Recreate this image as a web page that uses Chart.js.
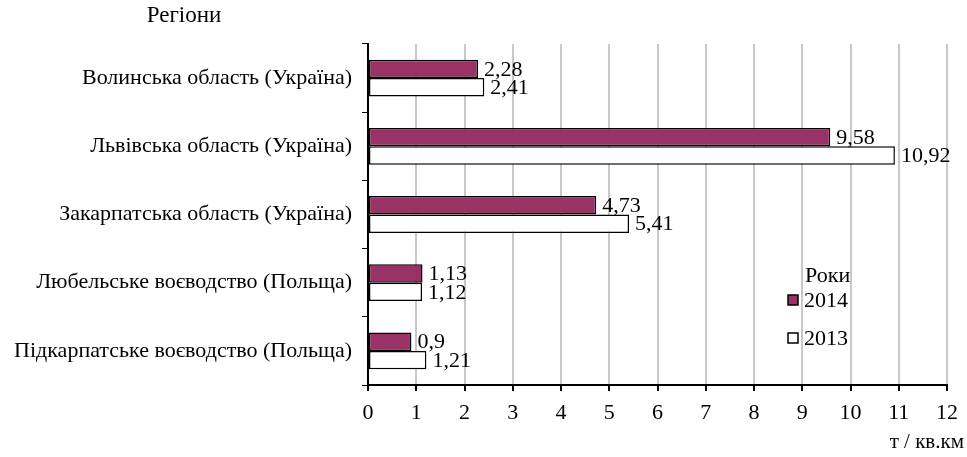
<!DOCTYPE html>
<html><head><meta charset="utf-8">
<script src="https://cdn.jsdelivr.net/npm/chart.js@4/dist/chart.umd.min.js"></script>
<style>html,body{margin:0;padding:0;background:#fff}#wrap{width:967px;height:457px}</style>
</head><body><div id="wrap"><canvas id="c"></canvas></div>
<script>
const categories = ["Волинська область (Україна)","Львівська область (Україна)","Закарпатська область (Україна)","Любельське воєводство (Польща)","Підкарпатське воєводство (Польща)"];
const values2014 = [2.28, 9.58, 4.73, 1.13, 0.9];
const values2013 = [2.41, 10.92, 5.41, 1.12, 1.21];
const seriesLabels = ["2014", "2013"];
const legendTitle = "Роки";
const xTitle = "т / кв.км";
const yTitle = "Регіони";
const FONT = "'Liberation Serif','Times New Roman',serif";

const fmt = v => String(v).replace('.', ',');

const extras = {
  id: 'extras',
  afterDatasetsDraw(chart) {
    const ctx = chart.ctx;
    ctx.save();
    ctx.font = "22px " + FONT;
    ctx.fillStyle = '#000';
    ctx.textBaseline = 'middle';
    ctx.textAlign = 'left';
    chart.data.datasets.forEach((ds, i) => {
      chart.getDatasetMeta(i).data.forEach((bar, j) => {
        ctx.fillText(fmt(ds.data[j]), bar.x + 6, bar.y + 1);
      });
    });
    // axis titles
    ctx.textAlign = 'center';
    ctx.font = "23px " + FONT;
    ctx.fillText(yTitle, 184, 16);
    ctx.font = "21px " + FONT;
    ctx.textAlign = 'right';
    ctx.fillText(xTitle, 964, 442);
    // legend
    ctx.font = "22px " + FONT;
    ctx.textAlign = 'left';
    ctx.fillText(legendTitle, 805, 276);
    const ys = [300, 338];
    chart.data.datasets.forEach((ds, i) => {
      ctx.fillStyle = ds.backgroundColor;
      ctx.strokeStyle = '#000';
      ctx.lineWidth = 1.5;
      ctx.fillRect(788, ys[i] - 5, 10, 10);
      ctx.strokeRect(788, ys[i] - 5, 10, 10);
      ctx.fillStyle = '#000';
      ctx.fillText(ds.label, 804, ys[i] + 1);
    });
    ctx.restore();
  }
};

new Chart(document.getElementById('c'), {
  type: 'bar',
  data: {
    labels: categories,
    datasets: [
      { label: seriesLabels[0], data: values2014, backgroundColor: '#993366', borderColor: '#000', borderWidth: 1.5, borderSkipped: false, barPercentage: 1.0, categoryPercentage: 0.54 },
      { label: seriesLabels[1], data: values2013, backgroundColor: '#ffffff', borderColor: '#000', borderWidth: 1.5, borderSkipped: false, barPercentage: 1.0, categoryPercentage: 0.54 }
    ]
  },
  options: {
    indexAxis: 'y',
    responsive: true,
    maintainAspectRatio: false,
    animation: false,
    layout: { padding: { left: 0, right: 14, top: 44, bottom: 0 } },
    plugins: { legend: { display: false }, tooltip: { enabled: false } },
    scales: {
      x: {
        min: 0, max: 12,
        ticks: { stepSize: 1, color: '#000', font: { family: FONT, size: 22 }, padding: 9 },
        grid: { color: '#c8c8c8', lineWidth: 2, tickColor: '#000', tickLength: 6, drawTicks: true },
        border: { color: '#000', width: 2 },
        afterFit(s) { s.height = 72; }
      },
      y: {
        ticks: { color: '#000', font: { family: FONT, size: 22 }, padding: 10 },
        grid: { display: true, drawOnChartArea: false, tickColor: '#000', tickLength: 6, offset: true },
        border: { color: '#000', width: 2 },
        afterFit(s) { s.width = 368; }
      }
    }
  },
  plugins: [extras]
});
</script></body></html>
